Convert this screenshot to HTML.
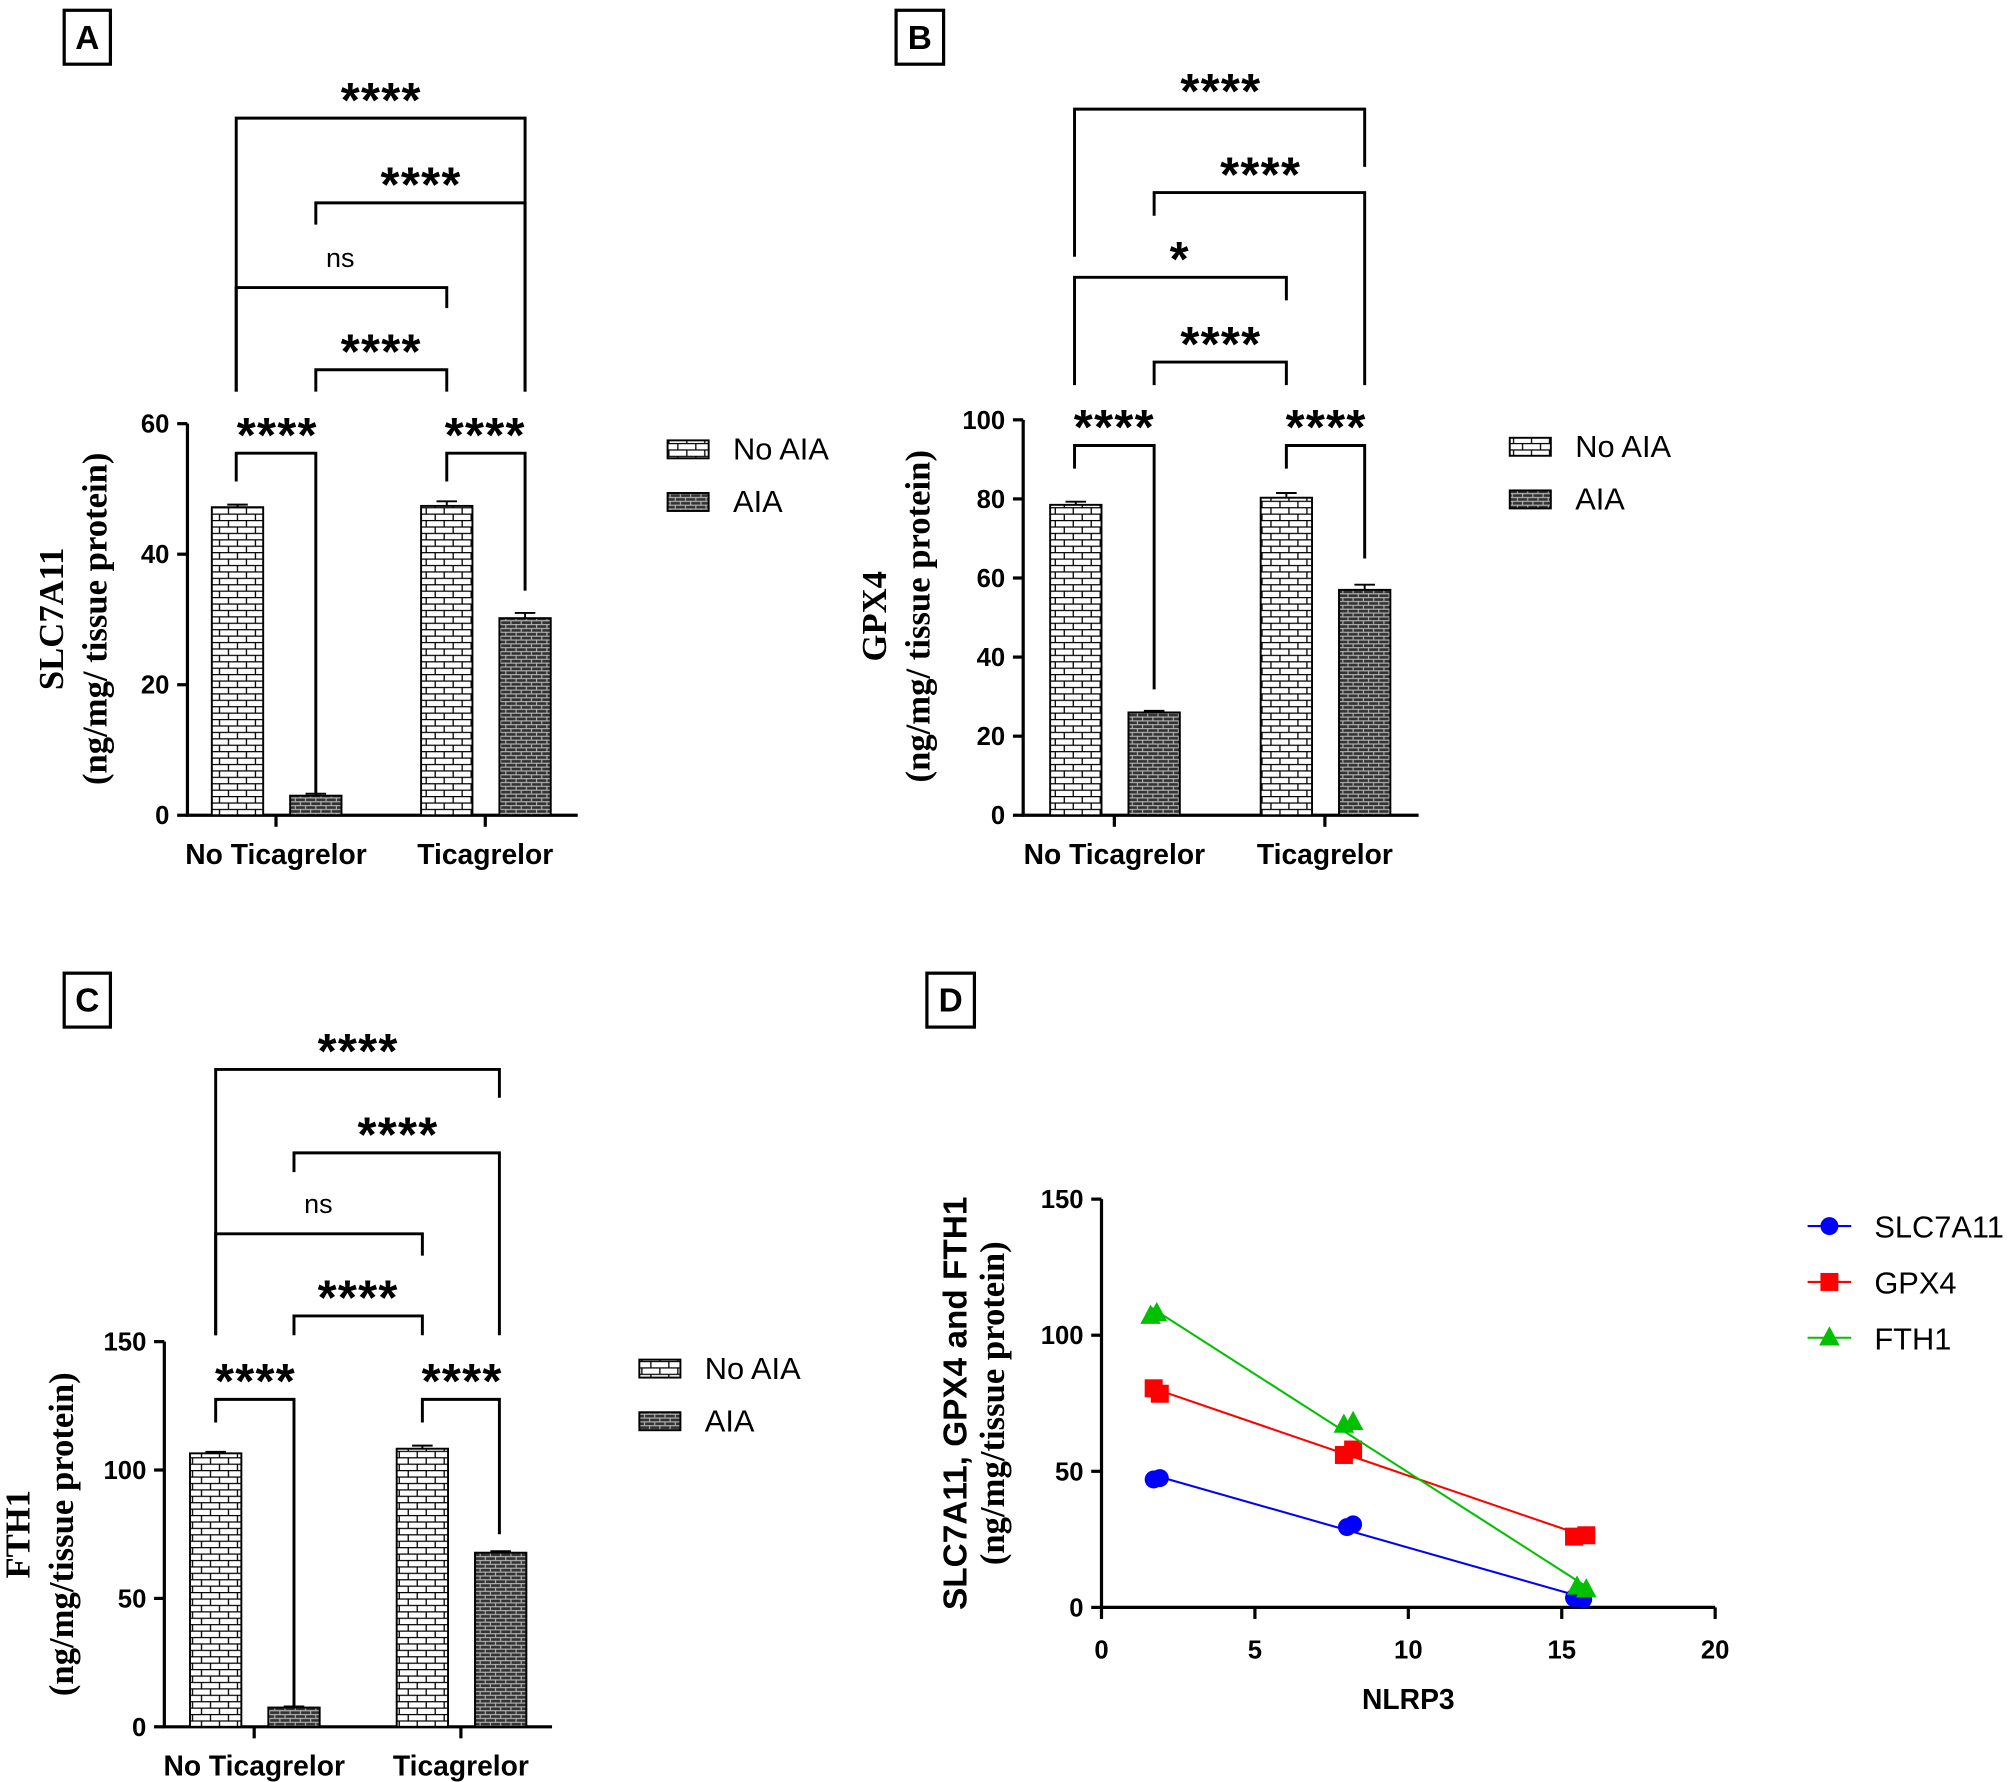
<!DOCTYPE html>
<html><head><meta charset="utf-8"><style>
html,body{margin:0;padding:0;background:#fff;}
svg{display:block;}
.ax{stroke:#000;stroke-width:2.5;fill:none;}
.br{stroke:#000;stroke-width:2.3;fill:none;}
.tk{font-family:"Liberation Sans",sans-serif;font-weight:bold;font-size:20px;fill:#000;}
.cat{font-family:"Liberation Sans",sans-serif;font-weight:bold;font-size:22px;fill:#000;}
.star{font-family:"Liberation Sans",sans-serif;font-weight:bold;font-size:38px;fill:#000;letter-spacing:1px;}
.ns{font-family:"Liberation Sans",sans-serif;font-size:21px;fill:#000;}
.leg{font-family:"Liberation Sans",sans-serif;font-size:24px;fill:#000;}
.yt{font-family:"Liberation Serif",serif;font-weight:bold;font-size:27px;fill:#000;}
.lbl{font-family:"Liberation Sans",sans-serif;font-weight:bold;font-size:26px;fill:#000;}
</style></head><body>
<svg id="fig" width="2013" height="1782" viewBox="0 0 1568 1388" preserveAspectRatio="none" xmlns="http://www.w3.org/2000/svg">
<defs>
<pattern id="brick" width="14" height="10" patternUnits="userSpaceOnUse">
<rect width="14" height="10" fill="#fff"/>
<path d="M0 0.5H14M0 5.5H14M3 0V5.5M10 5.5V10" stroke="#000" stroke-width="1"/>
</pattern>
<pattern id="dark" width="8" height="6" patternUnits="userSpaceOnUse">
<rect width="8" height="6" fill="#333"/>
<path d="M0 0.5H8M0 3.5H8M2 0V3.5M6 3.5V6" stroke="#bbb" stroke-width="0.8"/>
</pattern>
</defs>
<g id="panels"></g>
</svg>
<script>
// ---------- Panel A data ----------
const catsA = ["No Ticagrelor", "Ticagrelor"];
const noAiaA = [47.2, 47.4];
const aiaA = [3.0, 30.2];
const errNoA = [0.4, 0.7];
const errAiaA = [0.3, 0.8];
const ticksA = [0, 20, 40, 60];
// ---------- Panel B data ----------
const catsB = ["No Ticagrelor", "Ticagrelor"];
const noAiaB = [78.5, 80.3];
const aiaB = [26.0, 57.0];
const errNoB = [0.8, 1.2];
const errAiaB = [0.4, 1.3];
const ticksB = [0, 20, 40, 60, 80, 100];
// ---------- Panel C data ----------
const catsC = ["No Ticagrelor", "Ticagrelor"];
const noAiaC = [106.5, 108.3];
const aiaC = [7.5, 67.8];
const errNoC = [0.6, 1.2];
const errAiaC = [0.4, 0.6];
const ticksC = [0, 50, 100, 150];
// ---------- Panel D data ----------
const nlrpSlc = [1.7, 1.9, 8.0, 8.2, 15.4, 15.7];
const valSlc = [47, 47.5, 29.5, 30.5, 3.5, 3];
const nlrpGpx = [1.7, 1.9, 7.9, 8.2, 15.4, 15.8];
const valGpx = [80.5, 78.5, 56, 58, 26, 26.5];
const nlrpFth = [1.6, 1.8, 7.9, 8.2, 15.5, 15.8];
const valFth = [107, 108, 67, 68, 7.5, 6.5];
const xTicksD = [0, 5, 10, 15, 20];
const yTicksD = [0, 50, 100, 150];

const NS = "http://www.w3.org/2000/svg";
const root = document.getElementById('panels');
function mk(tag, attrs, parent, text) {
  const e = document.createElementNS(NS, tag);
  for (const k in attrs) e.setAttribute(k, attrs[k]);
  if (text !== undefined) e.textContent = text;
  (parent || root).appendChild(e);
  return e;
}
function grp(name) {
  const g = mk('g', {});
  
  
  return g;
}

function panelLabel(letter, x, y, w) {
  const g = grp('panel-label-' + letter.toLowerCase());
  mk('rect', {x: x, y: y, width: w, height: 42, fill: '#fff', stroke: '#000', 'stroke-width': 2.5}, g);
  mk('text', {x: x + w / 2, y: y + 30, 'text-anchor': 'middle', class: 'lbl'}, g, letter);
}

function barPanel(id, o) {
  const g = grp('bar-chart-' + id);
  const yv = v => o.y0 - (v / o.ymax) * (o.y0 - o.y1);
  const ya = mk('path', {d: `M${o.x0} ${o.y1}V${o.y0}H${o.x1}`, class: 'ax'}, g);
  
  
  o.ticks.forEach(t => {
    mk('line', {x1: o.x0 - 8, x2: o.x0, y1: yv(t), y2: yv(t), class: 'ax'}, g);
    const tl = mk('text', {x: o.x0 - 14, y: yv(t) + 7, 'text-anchor': 'end', class: 'tk'}, g, t);
    
    
  });
  o.cats.forEach((c, i) => {
    const cx = o.gx[i];
    mk('line', {x1: cx, x2: cx, y1: o.y0, y2: o.y0 + 9, class: 'ax'}, g);
    const cl = mk('text', {x: cx, y: o.y0 + 38, 'text-anchor': 'middle', class: 'cat'}, g, c);
    
    
    [[o.no[i], o.eno[i], -1, 'url(#brick)', 'bar-no-aia'], [o.aia[i], o.eaia[i], 1, 'url(#dark)', 'bar-aia']].forEach(s => {
      const bx = s[2] < 0 ? cx - 50 : cx + 11;
      const top = yv(s[0]);
      const r = mk('rect', {x: bx, y: top, width: 40, height: o.y0 - top, fill: s[3], stroke: '#000', 'stroke-width': 1.5}, g);
      
      
      const et = yv(s[0] + s[1]);
      mk('path', {d: `M${bx + 20} ${top}V${et}M${bx + 12} ${et}H${bx + 28}`, stroke: '#000', 'stroke-width': 1.5, fill: 'none'}, g);
    });
  });
  const lg = grp('legend-' + id);
  [['No AIA', 'url(#brick)'], ['AIA', 'url(#dark)']].forEach((e, i) => {
    const yy = o.ly + i * 41;
    mk('rect', {x: o.lx, y: yy - 7, width: 32, height: 14, fill: e[1], stroke: '#000', 'stroke-width': 1.5}, lg);
    const t = mk('text', {x: o.lx + 51, y: yy + 8, class: 'leg'}, lg, e[0]);
    
    
  });
  o.yt.forEach((t, i) => {
    const e = mk('text', {x: 0, y: 0, 'text-anchor': 'middle', class: 'yt', transform: `translate(${t[1]},${o.ytc}) rotate(-90)`}, g, t[0]);
    
    
  });
  o.br.forEach(b => {
    mk('path', {d: `M${b[2]} ${b[4]}V${b[1]}H${b[3]}V${b[5]}`, class: 'br'}, g);
    const isNs = b[0] === 'ns';
    const t = mk('text', {x: b[6], y: isNs ? b[1] - 16 : b[1] - 1, 'text-anchor': 'middle', class: isNs ? 'ns' : 'star'}, g, b[0]);
    
    
  });
}

panelLabel('A', 50, 8, 36);
barPanel('a', {x0: 146, x1: 450, y0: 635, y1: 330, ymax: 60, ticks: ticksA, cats: catsA, gx: [215, 378],
  no: noAiaA, aia: aiaA, eno: errNoA, eaia: errAiaA, lx: 520, ly: 350, ytc: 482,
  yt: [['SLC7A11', 49], ['(ng/mg/ tissue protein)', 83]],
  br: [['****', 92, 184, 409, 305, 305, 297], ['****', 158, 246, 409, 175, 305, 328], ['ns', 224, 184, 348, 305, 240, 265],
       ['****', 288, 246, 348, 305, 305, 297], ['****', 353, 184, 246, 375, 620, 216], ['****', 353, 348, 409, 375, 460, 378]]});

panelLabel('B', 698, 8, 37);
barPanel('b', {x0: 797, x1: 1105, y0: 635, y1: 327, ymax: 100, ticks: ticksB, cats: catsB, gx: [868, 1032],
  no: noAiaB, aia: aiaB, eno: errNoB, eaia: errAiaB, lx: 1176, ly: 348, ytc: 480,
  yt: [['GPX4', 690], ['(ng/mg/ tissue protein)', 724]],
  br: [['****', 85, 837, 1063, 200, 130, 951], ['****', 150, 899, 1063, 168, 300, 982], ['*', 216, 837, 1002, 300, 234, 919],
       ['****', 282, 899, 1002, 300, 300, 951], ['****', 347, 837, 899, 365, 537, 868], ['****', 347, 1002, 1063, 365, 435, 1033]]});

panelLabel('C', 50, 758, 36);
barPanel('c', {x0: 128, x1: 430, y0: 1345, y1: 1045, ymax: 150, ticks: ticksC, cats: catsC, gx: [198, 359],
  no: noAiaC, aia: aiaC, eno: errNoC, eaia: errAiaC, lx: 498, ly: 1066, ytc: 1195,
  yt: [['FTH1', 23], ['(ng/mg/tissue protein)', 57]],
  br: [['****', 833, 168, 389, 1040, 855, 279], ['****', 898, 229, 389, 913, 1040, 310], ['ns', 961, 168, 329, 1040, 978, 248],
       ['****', 1025, 229, 329, 1040, 1040, 279], ['****', 1090, 168, 229, 1108, 1330, 199], ['****', 1090, 329, 389, 1108, 1195, 360]]});

// ---------- Panel D ----------
panelLabel('D', 722, 758, 37);
(function () {
  const g = grp('scatter-chart-d');
  const X0 = 858, X1 = 1336, Y0 = 1252, Y1 = 934;
  const xs = v => X0 + v / 20 * (X1 - X0);
  const ys = v => Y0 - v / 150 * (Y0 - Y1);
  const ax = mk('path', {d: `M${X0} ${Y1}V${Y0}H${X1}`, class: 'ax'}, g);
  
  
  yTicksD.forEach(t => {
    mk('line', {x1: X0 - 8, x2: X0, y1: ys(t), y2: ys(t), class: 'ax'}, g);
    const e = mk('text', {x: X0 - 14, y: ys(t) + 7, 'text-anchor': 'end', class: 'tk'}, g, t);
    
    
  });
  xTicksD.forEach(t => {
    mk('line', {x1: xs(t), x2: xs(t), y1: Y0, y2: Y0 + 9, class: 'ax'}, g);
    const e = mk('text', {x: xs(t), y: Y0 + 40, 'text-anchor': 'middle', class: 'tk'}, g, t);
    
    
  });
  const xt = mk('text', {x: xs(10), y: 1331, 'text-anchor': 'middle', class: 'cat', 'font-size': '23'}, g, 'NLRP3');
  
  
  const yt1 = mk('text', {x: 0, y: 0, 'text-anchor': 'middle', class: 'lbl', 'font-size': '23', transform: `translate(753,1093) rotate(-90)`}, g, 'SLC7A11, GPX4 and FTH1');
  
  
  const yt2 = mk('text', {x: 0, y: 0, 'text-anchor': 'middle', class: 'yt', 'font-size': '21', transform: `translate(782,1093) rotate(-90)`}, g, '(ng/mg/tissue protein)');
  
  

  const series = [['slc7a11', nlrpSlc, valSlc, '#0000ff', 'circle', 'SLC7A11'],
                  ['gpx4', nlrpGpx, valGpx, '#ff0000', 'square', 'GPX4'],
                  ['fth1', nlrpFth, valFth, '#00c000', 'triangle', 'FTH1']];
  function marker(shape, cx, cy, col, parent) {
    if (shape === 'circle') return mk('circle', {cx: cx, cy: cy, r: 7, fill: col}, parent);
    if (shape === 'square') return mk('rect', {x: cx - 7, y: cy - 7, width: 14, height: 14, fill: col}, parent);
    return mk('path', {d: `M${cx} ${cy - 9}L${cx + 8} ${cy + 6}L${cx - 8} ${cy + 6}Z`, fill: col}, parent);
  }
  series.forEach((s, si) => {
    const xsA = s[1], vs = s[2], n = xsA.length;
    const mx = xsA.reduce((a, b) => a + b, 0) / n, my = vs.reduce((a, b) => a + b, 0) / n;
    let sxy = 0, sxx = 0;
    for (let i = 0; i < n; i++) { sxy += (xsA[i] - mx) * (vs[i] - my); sxx += (xsA[i] - mx) ** 2; }
    const b = sxy / sxx, a = my - b * mx;
    const xa = Math.min(...xsA), xb = Math.max(...xsA);
    const ln = mk('line', {x1: xs(xa), y1: ys(a + b * xa), x2: xs(xb), y2: ys(a + b * xb), stroke: s[3], 'stroke-width': 1.6}, g);
    
    
    for (let i = 0; i < n; i++) {
      const m = marker(s[4], xs(xsA[i]), ys(vs[i]), s[3], g);
      
      
    }
    const ly = 955 + si * 43.5;
    const lg = grp('legend-entry-' + s[0]);
    mk('line', {x1: 1408, x2: 1442, y1: ly, y2: ly, stroke: s[3], 'stroke-width': 1.6}, lg);
    marker(s[4], 1425, ly, s[3], lg);
    mk('text', {x: 1460, y: ly + 9, class: 'leg'}, lg, s[5]);
  });
})();
</script>
</body></html>
